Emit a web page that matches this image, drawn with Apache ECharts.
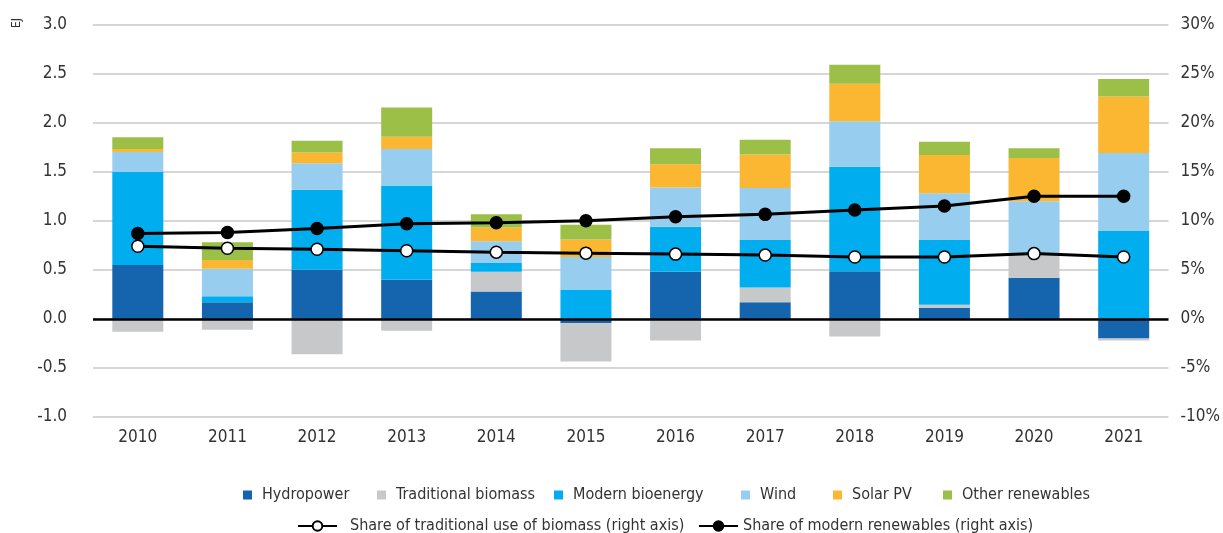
<!DOCTYPE html>
<html>
<head>
<meta charset="utf-8">
<script src="https://cdn.jsdelivr.net/npm/echarts@6/dist/echarts.min.js"></script>
<style>
html,body{margin:0;padding:0;background:#fff;}
#c{width:1223px;height:533px;}
</style>
</head>
<body>
<div id="c"></div>
<script>
const years = ['2010','2011','2012','2013','2014','2015','2016','2017','2018','2019','2020','2021'];
const hydropower = [0.55, 0.17, 0.50, 0.40, 0.28, -0.045, 0.48, 0.17, 0.485, 0.11, 0.42, -0.20];
const traditionalBiomass = [-0.13, -0.11, -0.36, -0.12, 0.20, -0.39, -0.22, 0.15, -0.18, 0.035, 0.24, -0.02];
const modernBioenergy = [0.95, 0.06, 0.815, 0.96, 0.09, 0.30, 0.46, 0.485, 1.065, 0.66, -0.01, 0.90];
const wind = [0.20, 0.28, 0.27, 0.37, 0.22, 0.33, 0.40, 0.53, 0.465, 0.475, 0.54, 0.79];
const solarPV = [0.03, 0.09, 0.11, 0.125, 0.14, 0.18, 0.235, 0.34, 0.38, 0.39, 0.44, 0.575];
const otherRenewables = [0.12, 0.18, 0.12, 0.30, 0.135, 0.15, 0.165, 0.15, 0.195, 0.135, 0.10, 0.18];
const shareTraditional = [7.4, 7.2, 7.1, 6.95, 6.8, 6.7, 6.6, 6.5, 6.3, 6.3, 6.65, 6.3];
const shareModern = [8.7, 8.8, 9.2, 9.7, 9.8, 10.0, 10.4, 10.65, 11.1, 11.5, 12.5, 12.5];

const FONT = '"DejaVu Sans", sans-serif';
const FW = 'condensed';
const TXT = '#333333';
const FS = 16;

const barSeries = [
  ['Hydropower', hydropower, '#1464AE'],
  ['Traditional biomass', traditionalBiomass, '#C7C8CA'],
  ['Modern bioenergy', modernBioenergy, '#00AEEF'],
  ['Wind', wind, '#97CDEF'],
  ['Solar PV', solarPV, '#FBB731'],
  ['Other renewables', otherRenewables, '#9CBF47']
].map(([name, data, color], i) => ({
  name, type: 'bar', stack: 'total', data, barWidth: 51,
  itemStyle: { color },
  z: 2,
  markLine: i === 0 ? {
    silent: true, symbol: 'none', label: { show: false },
    lineStyle: { color: '#000', width: 2.5, type: 'solid' },
    data: [{ yAxis: 0 }], z: 5
  } : undefined
}));

const lineSeries = [
  { name: 'Share of traditional use of biomass (right axis)', data: shareTraditional, fill: '#ffffff' },
  { name: 'Share of modern renewables (right axis)', data: shareModern, fill: '#000000' }
].map(s => ({
  name: s.name, type: 'line', yAxisIndex: 1, data: s.data,
  symbol: 'circle', symbolSize: 12, z: 10,
  lineStyle: { color: '#000', width: 3 },
  itemStyle: { color: s.fill, borderColor: '#000', borderWidth: 1.5 }
}));

const txt = (size) => ({ fontFamily: FONT, fontWeight: FW, fontSize: size, color: TXT });

// legend item placement (layout only)
const barLegendLeft = [243, 377, 554, 741, 833, 943];
const lineLegendLeft = [297, 698];

const legends = [];
barSeries.forEach((s, i) => legends.push({
  data: [s.name], left: barLegendLeft[i], top: 487,
  icon: 'rect', itemWidth: 9, itemHeight: 9, padding: 0,
  textStyle: Object.assign(txt(FS), { padding: [0, 0, 0, 5] }),
  selectedMode: false
}));
lineSeries.forEach((s, i) => legends.push({
  data: [s.name], left: lineLegendLeft[i], top: 518, padding: 0,
  itemWidth: 39, itemHeight: 12,
  textStyle: Object.assign(txt(FS), { padding: [0, 0, 0, i === 0 ? 8 : 0] }),
  selectedMode: false
}));

const chart = echarts.init(document.getElementById('c'), null, { renderer: 'canvas' });
chart.setOption({
  animation: false,
  backgroundColor: '#fff',
  textStyle: { fontFamily: FONT, color: TXT },
  grid: { left: 93, right: 49, top: 24.5, bottom: 116, containLabel: false },
  graphic: [{
    type: 'text', left: 11, top: 18, rotation: Math.PI / 2,
    style: { text: 'EJ', font: 'normal condensed 12px "DejaVu Sans", sans-serif', fill: TXT }
  }],
  legend: legends,
  xAxis: {
    type: 'category', data: years,
    axisLine: { show: false }, axisTick: { show: false },
    axisLabel: Object.assign(txt(FS + 1), { margin: 12 })
  },
  yAxis: [
    {
      type: 'value', min: -1, max: 3, interval: 0.5,
      axisLine: { show: false }, axisTick: { show: false },
      axisLabel: Object.assign(txt(FS + 1), { margin: 26, formatter: v => v.toFixed(1) }),
      splitLine: { lineStyle: { color: '#C8C8C8', width: 1.5 } }
    },
    {
      type: 'value', min: -10, max: 30, interval: 5,
      axisLine: { show: false }, axisTick: { show: false },
      axisLabel: Object.assign(txt(FS + 1), { margin: 12, formatter: v => v + '%' }),
      splitLine: { show: false }
    }
  ],
  series: [...barSeries, ...lineSeries]
});
</script>
</body>
</html>
